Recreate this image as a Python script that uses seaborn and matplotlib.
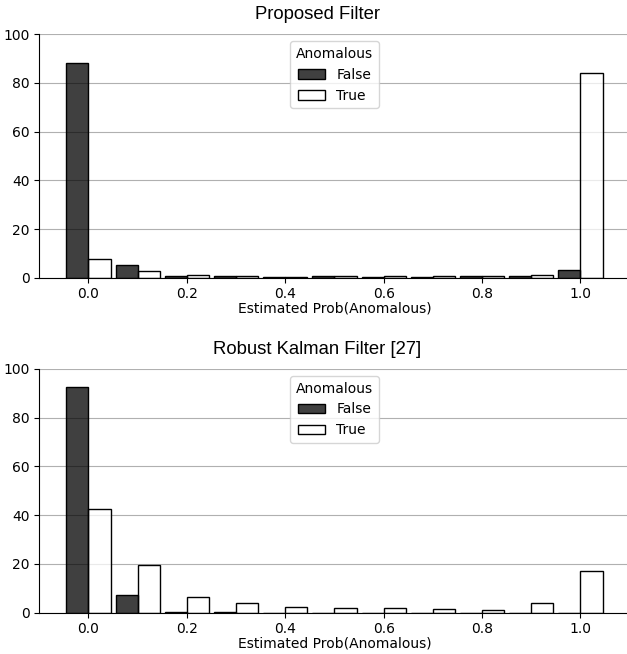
import pandas as pd
import seaborn as sns
import matplotlib.pyplot as plt

# bin centres of the estimated probability
bins = [0.0, 0.1, 0.2, 0.3, 0.4, 0.5, 0.6, 0.7, 0.8, 0.9, 1.0]

# percent of samples per bin
proposed_false = [88.1, 5.1, 0.8, 0.7, 0.4, 0.5, 0.1, 0.2, 0.5, 0.6, 3.1]
proposed_true = [7.8, 2.7, 1.0, 0.8, 0.4, 0.6, 0.5, 0.5, 0.5, 1.0, 84.2]
robust_false = [92.5, 7.3, 0.4, 0.2, 0.0, 0.0, 0.0, 0.0, 0.0, 0.0, 0.0]
robust_true = [42.5, 19.4, 6.3, 3.8, 2.3, 1.8, 1.9, 1.5, 1.2, 3.8, 17.0]

titles = ["Proposed Filter", "Robust Kalman Filter [27]"]


def make_df(false_vals, true_vals):
    rows = []
    for b, v in zip(bins, false_vals):
        rows.append({"prob": b, "Anomalous": "False", "w": v})
    for b, v in zip(bins, true_vals):
        rows.append({"prob": b, "Anomalous": "True", "w": v})
    return pd.DataFrame(rows)


dfs = [make_df(proposed_false, proposed_true), make_df(robust_false, robust_true)]

fig = plt.figure(figsize=(6.27, 6.54), dpi=100)
ax_top = fig.add_axes([39.3 / 627, 1 - 277.7 / 654, 590.3 / 627, 243.4 / 654])
ax_bot = fig.add_axes([39.3 / 627, 1 - 612.7 / 654, 590.3 / 627, 243.7 / 654])

for ax, df, title in zip([ax_top, ax_bot], dfs, titles):
    sns.histplot(data=df, x="prob", hue="Anomalous", weights="w",
                 hue_order=["False", "True"],
                 palette={"False": "black", "True": "white"},
                 binwidth=0.1, binrange=(-0.05, 1.05),
                 multiple="dodge", shrink=0.9, ax=ax)
    ax.set_xlim(-0.1, 1.1)
    ax.set_ylim(0, 100)
    ax.set_yticks([0, 20, 40, 60, 80, 100])
    ax.set_xticks([0.0, 0.2, 0.4, 0.6, 0.8, 1.0])
    ax.set_ylabel("")
    ax.set_xlabel("Estimated Prob(Anomalous)", labelpad=0)
    ax.set_axisbelow(True)
    ax.yaxis.grid(True, color="#b0b0b0")
    sns.despine(ax=ax)
    ax.set_title(title, x=0.471, fontsize=13.3, family="Liberation Sans", pad=11)
    sns.move_legend(ax, "upper center")

fig.savefig("out.png", dpi=100)
